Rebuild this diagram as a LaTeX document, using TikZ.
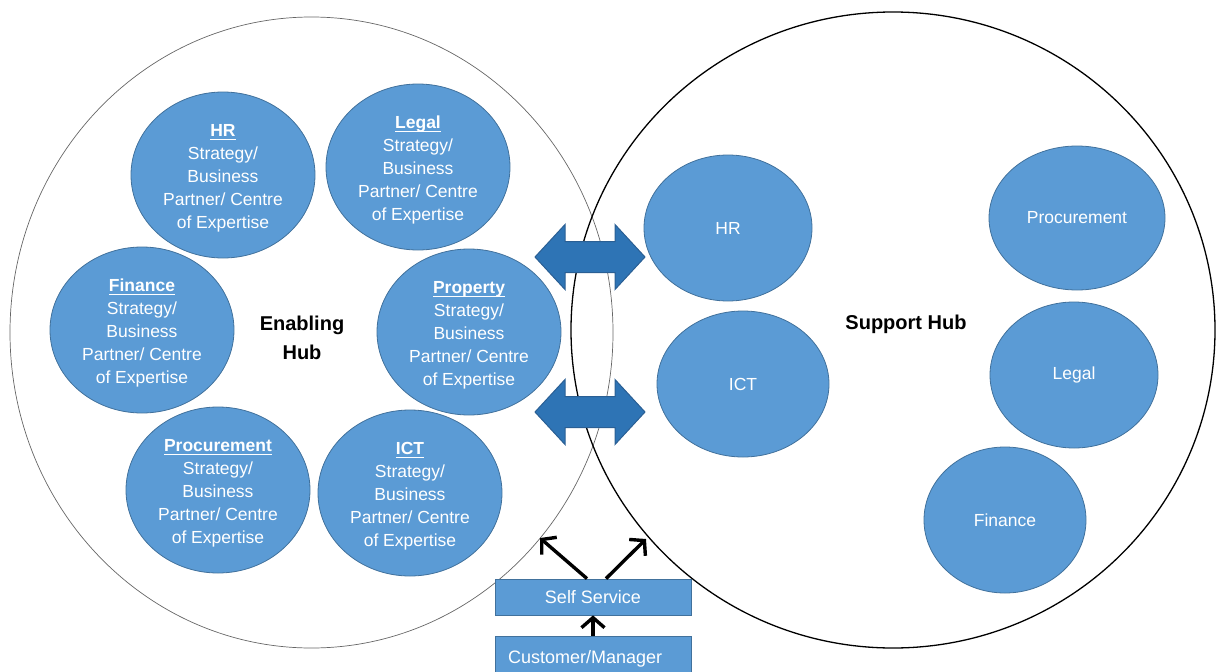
\documentclass[tikz,border=0pt]{standalone}
\usepackage{fontspec}
\setmainfont{Liberation Sans}
\usetikzlibrary{arrows.meta,shapes.geometric}

\definecolor{bubble}{HTML}{5B9BD5}
\definecolor{bubbleline}{HTML}{41719C}
\definecolor{bridgefill}{HTML}{2E74B5}
\definecolor{bridgeline}{HTML}{2A5F94}

\tikzset{
  hublabel/.style={font=\bfseries\fontsize{20}{29}\selectfont, align=center, text=black},
  unit/.style={ellipse, fill=bubble, draw=bubbleline, line width=0.8pt,
    minimum width=184pt, minimum height=166pt, inner sep=0pt,
    text=white, align=center, font=\fontsize{17.5}{23}\selectfont},
  svc/.style={ellipse, fill=bubble, draw=bubbleline, line width=0.8pt,
    inner sep=0pt, text=white, font=\fontsize{17.5}{21}\selectfont},
  tag/.style={rectangle, fill=bubble, draw=bubbleline, line width=0.8pt,
    text=white, font=\fontsize{18}{22}\selectfont,
    minimum width=196pt, inner sep=0pt},
  link/.style={-{Straight Barb[length=10pt,width=23pt,line width=3.4pt]}, line width=3.4pt, black},
  bridge/.pic={
    \path[fill=bridgefill, draw=bridgeline, line width=1pt, line join=miter]
      (-55,0) -- ++(30,-32.5) -- ++(0,17) -- ++(50,0) -- ++(0,-17)
      -- ++(30,32.5) -- ++(-30,32.5) -- ++(0,-17) -- ++(-50,0) -- ++(0,17) -- cycle;
  }
}

% underlined title with the rule kept just under the baseline
\newcommand{\unittitle}[1]{\underline{\raisebox{0pt}[\height][1pt]{\textbf{#1}}}}
\newcommand{\unittext}[1]{\rule{0pt}{19pt}\unittitle{#1}\\Strategy/\\Business\\Partner/ Centre\\of Expertise}

\begin{document}
\begin{tikzpicture}[x=1pt,y=-1pt]
\useasboundingbox (0,0) rectangle (1216,672);
\clip (0,0) rectangle (1216,672);

% the two hubs
\draw[black!60, line width=0.7pt] (311.5,332.5) ellipse [x radius=301.5pt, y radius=315.5pt];
\draw[black, line width=1.3pt] (893,330) ellipse [x radius=322pt, y radius=318pt];

\node[hublabel] (enabling) at (302,338) {Enabling\\Hub};
\node[hublabel] (support) at (906,324) {Support Hub};

% enabling hub units
\node[unit] (eHR)    at (223,175) {\unittext{HR}};
\node[unit] (eLegal) at (418,167) {\unittext{Legal}};
\node[unit] (eFin)   at (142,330) {\unittext{Finance}};
\node[unit] (eProp)  at (469,332) {\unittext{Property}};
\node[unit] (eProc)  at (218,490) {\unittext{Procurement}};
\node[unit] (eICT)   at (410,493) {\unittext{ICT}};

% support hub units
\node[svc, minimum width=168pt, minimum height=146pt] (sHR)    at (728,228)  {HR};
\node[svc, minimum width=172pt, minimum height=146pt] (sICT)   at (743,384)  {ICT};
\node[svc, minimum width=176pt, minimum height=144pt] (sProc)  at (1077,218) {Procurement};
\node[svc, minimum width=168pt, minimum height=146pt] (sLegal) at (1074,375) {Legal};
\node[svc, minimum width=162pt, minimum height=146pt] (sFin)   at (1005,520) {Finance};

% exchange between the hubs
\pic at (590,257) {bridge};
\pic at (590,412) {bridge};

% self service entry
\node[tag, minimum height=36pt] (self) at (593,597) {Self Service};
\node[tag, minimum height=46pt, text width=170pt, align=left, inner xsep=13pt] (cust) at (593,659) {Customer/Manager};

\coordinate (toEnabling) at (540,538);
\coordinate (toSupport)  at (646,539);

\draw[link] ([xshift=-6pt]self.north) -- (toEnabling);
\draw[link] ([xshift=13pt]self.north) -- (toSupport);
\draw[link] (cust.north) -- (self.south);
\end{tikzpicture}
\end{document}
